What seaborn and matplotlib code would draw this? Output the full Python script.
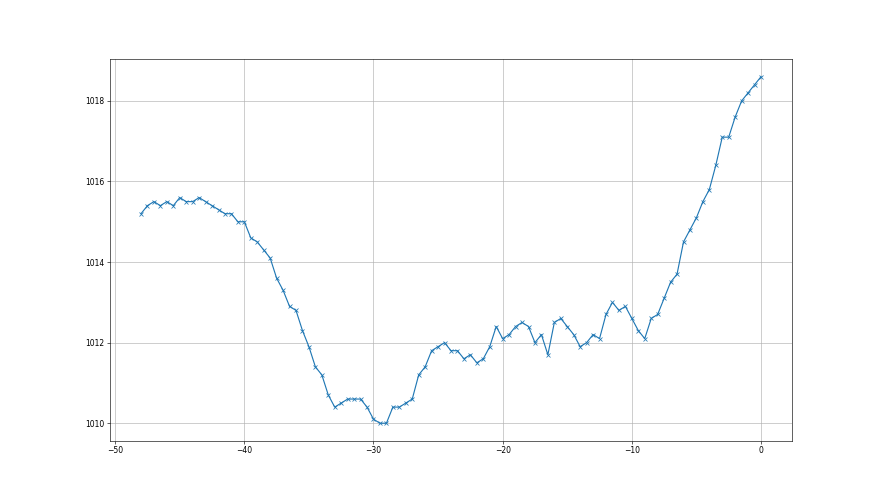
import matplotlib
matplotlib.use("Agg")
import matplotlib.pyplot as plt
import seaborn as sns
import numpy as np
import pandas as pd

x_values = [-48 + 0.5 * i for i in range(97)]
pressure = [
    1015.2, 1015.4, 1015.5, 1015.4, 1015.5, 1015.4, 1015.6, 1015.5, 1015.5, 1015.6,
    1015.5, 1015.4, 1015.3, 1015.2, 1015.2, 1015.0, 1015.0, 1014.6, 1014.5, 1014.3,
    1014.1, 1013.6, 1013.3, 1012.9, 1012.8, 1012.3, 1011.9, 1011.4, 1011.2, 1010.7,
    1010.4, 1010.5, 1010.6, 1010.6, 1010.6, 1010.4, 1010.1, 1010.0, 1010.0, 1010.4,
    1010.4, 1010.5, 1010.6, 1011.2, 1011.4, 1011.8, 1011.9, 1012.0, 1011.8, 1011.8,
    1011.6, 1011.7, 1011.5, 1011.6, 1011.9, 1012.4, 1012.1, 1012.2, 1012.4, 1012.5,
    1012.4, 1012.0, 1012.2, 1011.7, 1012.5, 1012.6, 1012.4, 1012.2, 1011.9, 1012.0,
    1012.2, 1012.1, 1012.7, 1013.0, 1012.8, 1012.9, 1012.6, 1012.3, 1012.1, 1012.6,
    1012.7, 1013.1, 1013.5, 1013.7, 1014.5, 1014.8, 1015.1, 1015.5, 1015.8, 1016.4,
    1017.1, 1017.1, 1017.6, 1018.0, 1018.2, 1018.4, 1018.6,
]

df = pd.DataFrame({"x": x_values, "p": pressure})

fig, ax = plt.subplots(figsize=(16, 9), dpi=55)
sns.lineplot(data=df, x="x", y="p", ax=ax, marker="x", color="tab:blue",
             markeredgecolor="tab:blue", markeredgewidth=1.0, markersize=6,
             linewidth=1.5)
ax.grid(True)
ax.set_xlabel("")
ax.set_ylabel("")
fig.savefig("out.png", dpi=55)
